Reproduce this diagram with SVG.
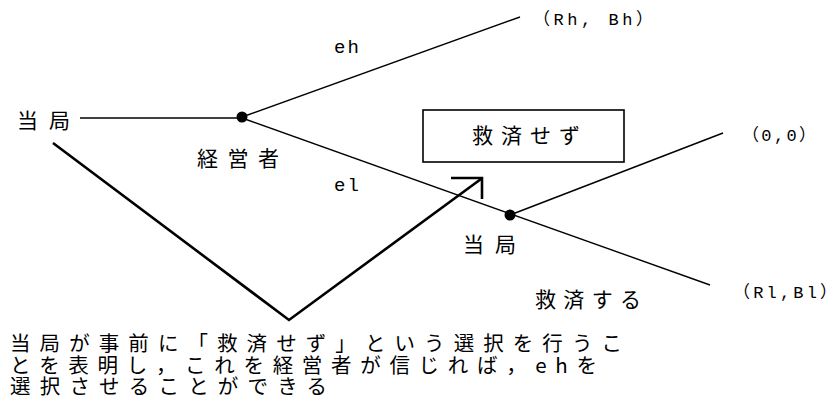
<svg xmlns="http://www.w3.org/2000/svg" width="840" height="403" viewBox="0 0 840 403">
<style>
.jp{font-family:"Noto Sans CJK JP","Noto Sans CJK SC",sans-serif;font-size:21px;fill:#000}
.lat{font-family:"Liberation Mono","Noto Sans CJK JP",monospace;font-size:17px;fill:#000}
.lbl{font-family:"Liberation Mono",monospace;font-size:19px;fill:#000;letter-spacing:2px}
.edge{stroke:#000;stroke-width:1.4;fill:none}
.thick{stroke:#000;stroke-width:2.6;fill:none}
.note{font-family:"Noto Sans CJK JP","Noto Sans CJK SC",sans-serif;font-size:20.5px;fill:#000}
</style>
<rect width="840" height="403" fill="#fff"/>
<g id="connectors">
<line class="edge" x1="80" y1="118" x2="242" y2="118"/>
<line class="edge" x1="242" y1="117" x2="520" y2="17"/>
<line class="edge" x1="242" y1="118" x2="710" y2="285"/>
<line class="edge" x1="510" y1="215" x2="723" y2="133"/>
<polyline class="thick" points="53,143 289,320 481,179"/>
<polyline class="thick" points="451,178 482,178 482,199"/>
</g>
<g id="node-root"><text class="jp" x="17" y="128" textLength="53" lengthAdjust="spacing">当局</text></g>
<g id="node-manager">
<circle cx="242" cy="117" r="5.5" fill="#000"/>
<text class="jp" x="197" y="166" textLength="82" lengthAdjust="spacing">経営者</text>
</g>
<g id="label-eh"><text class="lbl" x="334" y="53">eh</text></g>
<g id="label-el"><text class="lbl" x="334" y="191">el</text></g>
<g id="leaf-high"><text class="lat" x="533" y="25" textLength="120" lengthAdjust="spacing">（Rh, Bh）</text></g>
<g id="node-authority2">
<circle cx="510" cy="215" r="5.5" fill="#000"/>
<text class="jp" x="463" y="252" textLength="53" lengthAdjust="spacing">当局</text>
</g>
<g id="leaf-zero"><text class="lat" x="742" y="141" textLength="74" lengthAdjust="spacing">（0,0）</text></g>
<g id="leaf-low"><text class="lat" x="733" y="298" textLength="104" lengthAdjust="spacing">（Rl,Bl）</text></g>
<g id="label-rescue"><text class="jp" x="535" y="307" textLength="106" lengthAdjust="spacing">救済する</text></g>
<g id="box-norescue">
<rect x="423" y="110" width="201" height="52" fill="none" stroke="#000" stroke-width="1.6"/>
<text class="jp" x="472" y="143" textLength="108" lengthAdjust="spacing">救済せず</text>
</g>
<g id="note">
<text class="note" x="10" y="351" textLength="612" lengthAdjust="spacing">当局が事前に「救済せず」という選択を行うこ</text>
<text class="note" x="10" y="373" textLength="587" lengthAdjust="spacing">とを表明し，これを経営者が信じれば，ehを</text>
<text class="note" x="10" y="394" textLength="317" lengthAdjust="spacing">選択させることができる</text>
</g>
</svg>
